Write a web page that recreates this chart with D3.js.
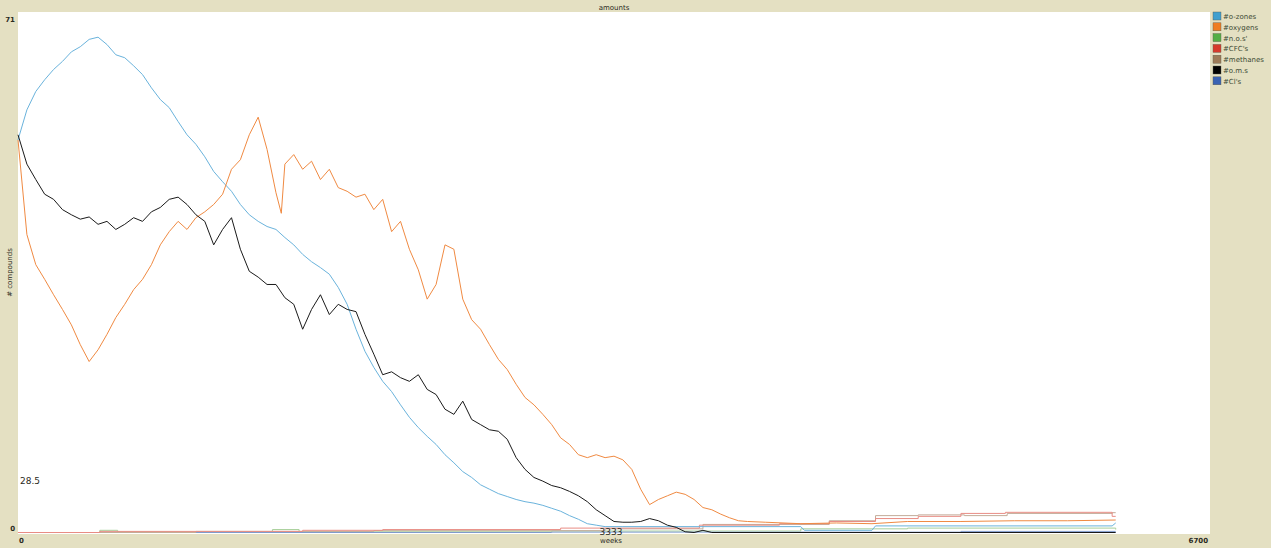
<!DOCTYPE html>
<html>
<head>
<meta charset="utf-8">
<script src="https://cdn.jsdelivr.net/npm/d3@7"></script>
<style>
  html, body { margin: 0; padding: 0; background: #e4e0c2; }
  svg { display: block; font-family: "DejaVu Sans", sans-serif; }
  .lbl { fill: #2b2b22; }
  .legend-text { fill: #3c4a34; font-size: 7px; }
</style>
</head>
<body>
<div id="chart"></div>
<script>
// ticks / labels
const xTicks = [0, 3333, 6700];
const yTicks = [0, 71];
const xMax = 6700;
const yMax = 71;

// [week, # compounds]
const oZones = [
  [0,53.5],[50,57.6],[100,60.1],[150,61.7],[200,63.1],[250,64.2],[300,65.5],[350,66.2],[400,67.2],[450,67.5],
  [500,66.5],[550,65.1],[600,64.7],[650,63.6],[700,62.4],[750,60.6],[800,59.0],[850,57.9],[900,56.0],[950,54.2],
  [1000,52.9],[1050,51.2],[1100,49.2],[1150,47.8],[1200,46.5],[1250,44.7],[1300,43.3],[1350,42.4],[1400,41.7],[1450,41.3],
  [1500,40.2],[1550,39.2],[1600,37.9],[1650,36.9],[1700,36.1],[1750,35.2],[1800,33.4],[1850,31.1],[1900,27.7],[1950,24.7],
  [2000,22.5],[2050,20.6],[2100,19.2],[2150,17.4],[2200,15.7],[2250,14.3],[2300,13.1],[2350,12.0],[2400,10.6],[2450,9.5],
  [2500,8.3],[2550,7.5],[2600,6.5],[2650,5.9],[2700,5.3],[2750,4.9],[2800,4.5],[2850,4.2],[2900,4.0],[2950,3.7],
  [3000,3.3],[3050,2.9],[3100,2.3],[3150,1.8],[3200,1.2],[3250,1.0],[3300,0.8],[3400,0.8],[4400,0.8],[4420,0.3],
  [4800,0.3],[4820,0.9],[6150,0.9],[6170,1.3]
];

const oxygens = [
  [0,53.5],[50,40.6],[100,36.5],[150,34.5],[200,32.4],[250,30.4],[300,28.3],[350,25.6],[400,23.3],[450,24.9],
  [500,27.0],[550,29.3],[600,31.1],[650,33.1],[700,34.5],[750,36.5],[800,39.2],[850,41.0],[900,42.4],[950,41.3],
  [1000,42.9],[1050,43.7],[1100,44.7],[1150,46.1],[1200,49.5],[1250,50.8],[1300,54.2],[1350,56.6],[1400,52.2],[1450,46.3],
  [1480,43.5],[1500,50.2],[1550,51.5],[1600,49.5],[1650,50.6],[1700,48.1],[1750,49.5],[1800,47.0],[1850,46.5],[1900,45.7],
  [1950,46.1],[2000,44.0],[2050,45.4],[2100,41.0],[2150,42.4],[2200,38.6],[2250,35.8],[2300,31.8],[2350,33.8],[2400,39.2],
  [2450,38.6],[2500,31.8],[2550,29.0],[2600,27.7],[2650,25.6],[2700,23.6],[2750,22.2],[2800,20.2],[2850,18.4],[2900,17.4],
  [2950,16.1],[3000,14.7],[3050,12.9],[3100,12.0],[3150,10.6],[3200,10.2],[3250,10.6],[3300,10.2],[3350,10.4],[3400,9.9],
  [3450,8.6],[3500,5.9],[3550,3.8],[3600,4.5],[3650,5.0],[3700,5.5],[3750,5.2],[3800,4.5],[3850,3.4],[3900,3.1],
  [3950,2.5],[4000,2.0],[4050,1.6],[4100,1.5],[4200,1.4],[4400,1.2],[4600,1.3],[4800,1.2],[5000,1.5],[5300,1.5],
  [5600,1.6],[5900,1.6],[6170,1.7]
];

const oms = [
  [0,54.2],[50,50.2],[100,48.1],[150,46.1],[200,45.4],[250,44.0],[300,43.3],[350,42.7],[400,43.0],[450,42.0],
  [500,42.4],[550,41.3],[600,42.0],[650,42.9],[700,42.4],[750,43.7],[800,44.3],[850,45.4],[900,45.7],[950,44.7],
  [1000,43.3],[1050,42.4],[1100,39.2],[1150,41.3],[1200,42.9],[1250,38.6],[1300,35.6],[1350,34.8],[1400,33.8],[1450,33.8],
  [1500,32.0],[1550,31.1],[1600,27.7],[1650,30.4],[1700,32.4],[1750,29.7],[1800,31.1],[1850,30.4],[1900,30.1],[1950,27.0],
  [2000,24.3],[2050,21.5],[2100,21.9],[2150,21.1],[2200,20.6],[2250,21.5],[2300,19.5],[2350,18.8],[2400,16.8],[2450,16.1],
  [2500,17.9],[2550,15.4],[2600,14.7],[2650,14.0],[2700,13.8],[2750,12.7],[2800,10.2],[2850,8.6],[2900,7.5],[2950,7.0],
  [3000,6.4],[3050,6.1],[3100,5.6],[3150,5.0],[3200,4.2],[3250,3.1],[3300,2.3],[3350,1.5],[3400,1.4],[3450,1.4],
  [3500,1.5],[3550,1.9],[3600,1.6],[3650,1.0],[3700,0.7],[3750,0.1],[3800,0],[3850,0.3],[3900,0],[6170,0]
];

const cfcs = [
  [0,0],[460,0.15],[1600,0.3],[2050,0.4],[3050,0.6],[3830,1.0],[4280,1.2],[4560,1.5],[4820,1.9],
  [5060,2.2],[5300,2.6],[5550,2.75],[6150,2.2],[6170,2.2]
];

const methanes = [
  [0,0],[1000,0.15],[2000,0.25],[3300,0.5],[3850,1.1],[4560,1.6],[4820,2.3],[5060,2.4],
  [5320,2.3],[5560,2.6],[6150,2.7],[6170,2.7]
];

const nos = [
  [0,0],[460,0.3],[560,0.1],[1430,0.4],[1580,0.1],[3000,0.2],[4400,0.5],[5000,0.6],[6170,0.4]
];

const cls = [
  [0,0],[3000,0.05],[5300,0.15],[6170,0.15]
];

const seriesList = [
  { label: "#o-zones",  swatch: "#3f9fcf", stroke: "#6ab3dc", data: oZones,  curve: d3.curveLinear },
  { label: "#oxygens",  swatch: "#ef7d22", stroke: "#f08a42", data: oxygens, curve: d3.curveLinear },
  { label: "#n.o.s'",   swatch: "#55ae46", stroke: "#a7cf9a", data: nos,     curve: d3.curveStepAfter },
  { label: "#CFC's",    swatch: "#d63a2c", stroke: "#e88c84", data: cfcs,    curve: d3.curveStepAfter },
  { label: "#methanes", swatch: "#9d7b58", stroke: "#c3ab98", data: methanes,curve: d3.curveStepAfter },
  { label: "#o.m.s",    swatch: "#000000", stroke: "#1a1a1a", data: oms,     curve: d3.curveLinear },
  { label: "#Cl's",     swatch: "#3a63b3", stroke: "#7f9bcc", data: cls,     curve: d3.curveStepAfter }
];

const W = 1271, H = 548;
const plot = { left: 18, top: 12, right: 1210, bottom: 533 };

const svg = d3.select("#chart").append("svg")
  .attr("width", W)
  .attr("height", H);

svg.append("rect").attr("width", W).attr("height", H).attr("fill", "#e4e0c2");

svg.append("rect")
  .attr("x", plot.left)
  .attr("y", plot.top)
  .attr("width", plot.right - plot.left)
  .attr("height", plot.bottom - plot.top + 1)
  .attr("fill", "#ffffff");

const xScale = d3.scaleLinear().domain([0, xMax]).range([plot.left, plot.right]);
const yScale = d3.scaleLinear().domain([0, yMax]).range([plot.bottom, plot.top]);

// draw the flat ones first so the big curves sit on top
const drawOrder = [2, 6, 4, 3, 0, 1, 5];
drawOrder.forEach(i => {
  const s = seriesList[i];
  const line = d3.line()
    .x(d => xScale(d[0]))
    .y(d => yScale(d[1]) - 0.5)
    .curve(s.curve);
  svg.append("path")
    .datum(s.data)
    .attr("d", line)
    .attr("fill", "none")
    .attr("stroke", s.stroke)
    .attr("stroke-width", 1);
});

// title
svg.append("text").attr("class", "lbl")
  .attr("x", (plot.left + plot.right) / 2).attr("y", 10)
  .attr("text-anchor", "middle").attr("font-size", 7)
  .text("amounts");

// y tick labels
yTicks.forEach(t => {
  svg.append("text").attr("class", "lbl")
    .attr("x", 15).attr("y", yScale(t) + (t === yMax ? 10 : -2))
    .attr("text-anchor", "end").attr("font-size", 7).attr("font-weight", "bold")
    .text(t);
});

// x tick labels
xTicks.forEach((t, i) => {
  const anchor = i === 0 ? "start" : (i === xTicks.length - 1 ? "end" : "middle");
  svg.append("text").attr("class", "lbl")
    .attr("x", xScale(t) + (i === 0 ? 1 : (i === xTicks.length - 1 ? -2 : 0)))
    .attr("y", i === 1 ? plot.bottom + 2 : plot.bottom + 10)
    .attr("text-anchor", anchor)
    .attr("font-size", i === 1 ? 9 : 7)
    .attr("font-weight", i === 1 ? "normal" : "bold")
    .text(t);
});

svg.append("text").attr("class", "lbl")
  .attr("x", xScale(3333)).attr("y", plot.bottom + 10)
  .attr("text-anchor", "middle").attr("font-size", 7)
  .text("weeks");

svg.append("text").attr("class", "lbl")
  .attr("transform", `translate(12,${(plot.top + plot.bottom) / 2}) rotate(-90)`)
  .attr("text-anchor", "middle").attr("font-size", 7)
  .text("# compounds");

// readout label inside the plot
svg.append("text").attr("class", "lbl")
  .attr("x", plot.left + 2).attr("y", 484)
  .attr("font-size", 9)
  .text("28.5");

// legend
const legend = svg.append("g").attr("transform", "translate(1213,12)");
seriesList.forEach((s, i) => {
  const row = legend.append("g").attr("transform", `translate(0,${i * 10.8})`);
  row.append("rect").attr("width", 8).attr("height", 8)
    .attr("fill", s.swatch).attr("stroke", "#5a5a4a").attr("stroke-width", 0.4);
  row.append("text").attr("class", "legend-text")
    .attr("x", 10).attr("y", 7)
    .text(s.label);
});
</script>
</body>
</html>
